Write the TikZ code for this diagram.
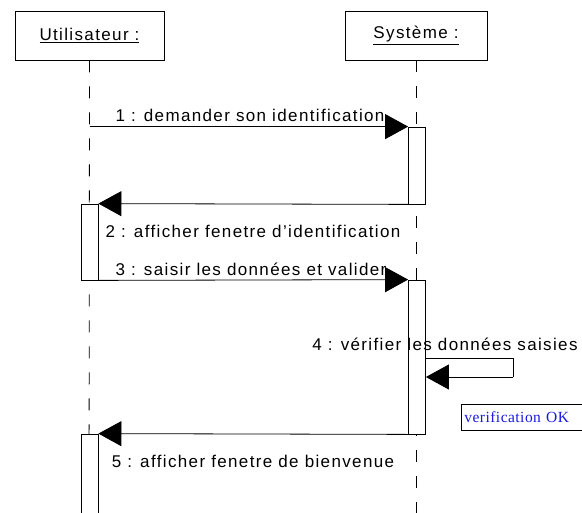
\documentclass[tikz,border=0pt]{standalone}
\usepackage{fontspec}
\setmainfont{Liberation Sans}
\newfontfamily\umlfont[LetterSpace=8]{Liberation Sans}
\newfontfamily\notefont[LetterSpace=3]{Liberation Serif}
\usetikzlibrary{arrows.meta,positioning}
\definecolor{noteblue}{HTML}{1A1AE6}
\tikzset{
  actorbox/.style={draw,line width=0.9bp,minimum width=149bp,minimum height=49bp,
    font=\umlfont\fontsize{17bp}{19bp}\selectfont},
  lifeline/.style={line width=0.8bp,dash pattern=on 12bp off 14bp},
  activ/.style={draw,fill=white,line width=0.8bp,minimum width=17bp,inner sep=0pt},
  msg/.style={line width=0.8bp,-{Triangle[length=23bp,width=25bp]}},
  msglabel/.style={anchor=base,inner sep=0pt,font=\umlfont\fontsize{17bp}{20bp}\selectfont},
  notebox/.style={draw,line width=0.8bp,anchor=north west,text width=126bp,minimum height=26bp,
    inner xsep=3bp,inner ysep=2bp,text=noteblue,font=\notefont\fontsize{15.5bp}{17bp}\selectfont,align=left},
}
\begin{document}
\begin{tikzpicture}[x=1bp,y=-1bp]
\useasboundingbox (0,0) rectangle (582,513);
\clip (0,0) rectangle (582,513);
\fill[white] (0,0) rectangle (582,513);

% objects
\node[actorbox] (ubox) at (89.5,35.5) {\underline{Utilisateur :}};
\node[actorbox,minimum width=142bp] (sbox) at (416,35.5) {\underline{Système :}};

% lifelines
\coordinate (uend) at (89,520);
\coordinate (send) at (416,520);
\draw[lifeline] (ubox.south) -- (uend);
\draw[lifeline] (sbox.south) -- (send);

% activations
\node[activ,minimum height=77bp] (sa1) at (417,165.5) {};
\node[activ,minimum height=76bp] (ua1) at (89.5,242) {};
\node[activ,minimum height=154bp] (sa2) at (417,357) {};
\node[activ,minimum height=90bp] (ua2) at (89.5,479) {};

% messages
\draw[msg] (ubox.south |- sa1.north west) -- (sa1.north west);
\node[msglabel] (l1) at (250,122) {1 : demander son identification};

\draw[msg] (sa1.south west) -- (ua1.north east);
\node[msglabel] (l2) at (253,237) {2 : afficher fenetre d’identification};

\draw[msg] (ua1.south east) -- (sa2.north west);
\node[msglabel] (l3) at (251,275) {3 : saisir les données et valider};

% self call
\coordinate (selfa) at (513,358);
\coordinate (selfb) at (513,377);
\draw[line width=0.8bp] (sa2.east |- selfa) -- (selfa) -- (selfb);
\draw[msg] (selfb) -- (sa2.east |- selfb);
\node[msglabel] (l4) at (445,350) {4 : vérifier les données saisies};

\draw[msg] (sa2.south west) -- (ua2.north east);
\node[msglabel] (l5) at (253,467) {5 : afficher fenetre de bienvenue};

% note
\node[notebox] (okn) at (461,404) {verification OK};
\end{tikzpicture}
\end{document}
